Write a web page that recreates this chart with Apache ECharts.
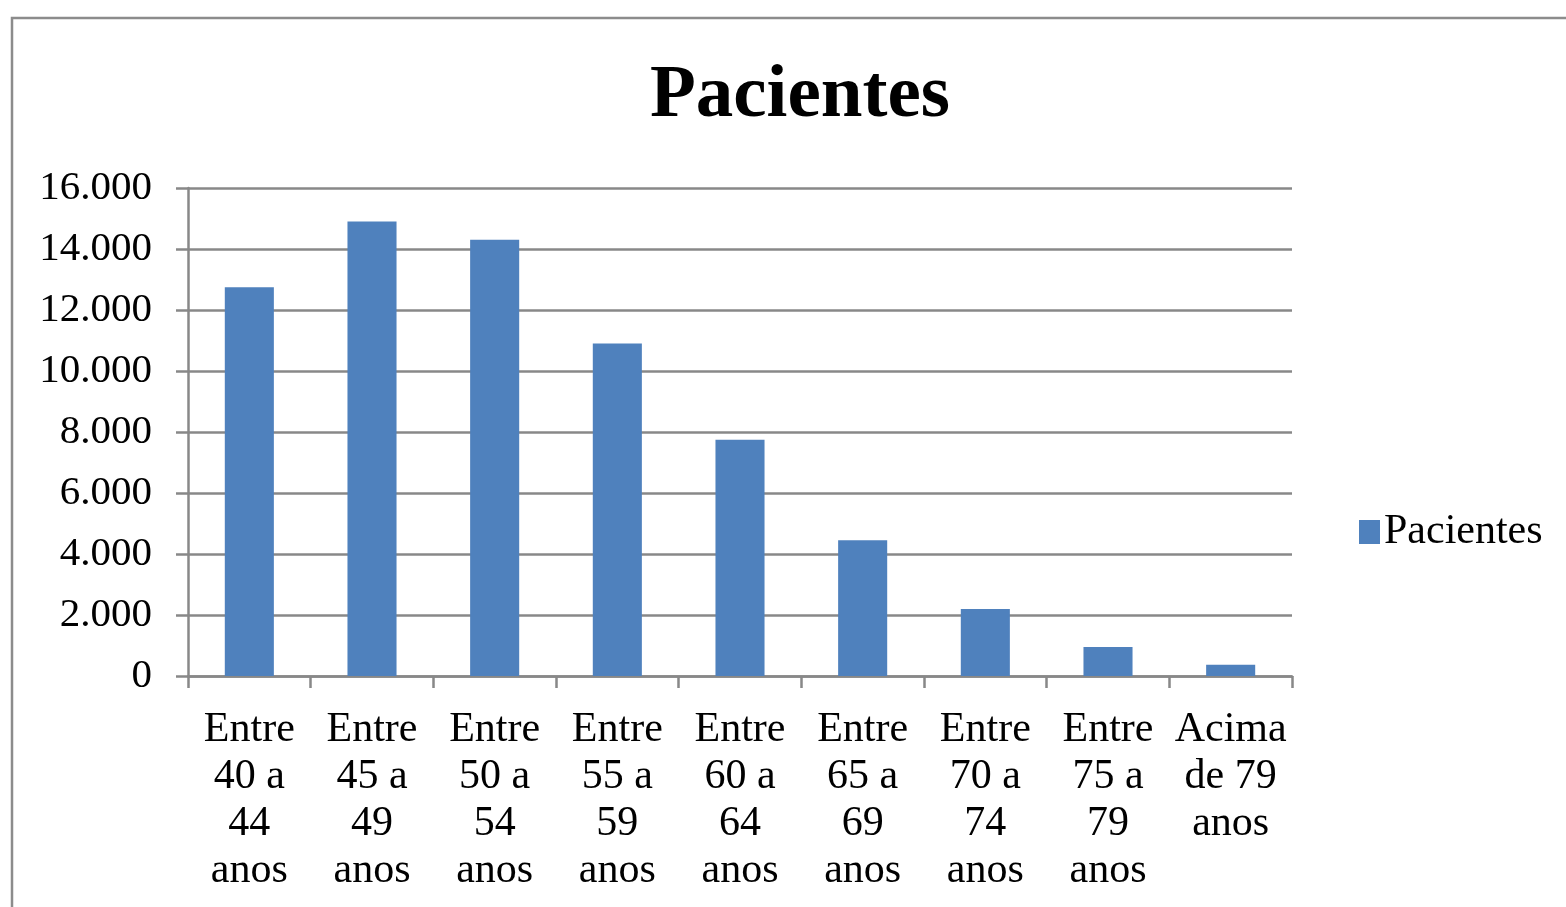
<!DOCTYPE html>
<html>
<head>
<meta charset="utf-8">
<script src="https://cdn.jsdelivr.net/npm/echarts@6/dist/echarts.min.js"></script>
<style>html,body{margin:0;padding:0;background:#fff;}#c{width:1566px;height:907px;}</style>
</head>
<body>
<div id="c"></div>
<script>
const categories = [
  'Entre\n40 a\n44\nanos', 'Entre\n45 a\n49\nanos', 'Entre\n50 a\n54\nanos',
  'Entre\n55 a\n59\nanos', 'Entre\n60 a\n64\nanos', 'Entre\n65 a\n69\nanos',
  'Entre\n70 a\n74\nanos', 'Entre\n75 a\n79\nanos', 'Acima\nde 79\nanos'
];
const pacientes = [12750, 14900, 14300, 10900, 7750, 4450, 2200, 950, 370];
const seriesName = 'Pacientes';
const chartTitle = 'Pacientes';

function fmt(v) { return String(v).replace(/\B(?=(\d{3})+(?!\d))/g, '.'); }

const serif = '"Liberation Serif", "DejaVu Serif", serif';
const chart = echarts.init(document.getElementById('c'), null, {renderer: 'canvas'});
chart.setOption({
  animation: false,
  backgroundColor: '#fff',
  graphic: [{
    type: 'rect',
    shape: {x: 12, y: 18, width: 1600, height: 950},
    style: {fill: 'none', stroke: '#8c8c8c', lineWidth: 2.5},
    z: -1
  }],
  title: {
    text: chartTitle,
    left: 645, top: 54,
    textStyle: {fontFamily: serif, fontWeight: 'bold', fontSize: 75, color: '#000'}
  },
  legend: {
    left: 1354, top: 506,
    itemWidth: 21, itemHeight: 24, itemGap: 10,
    textStyle: {fontFamily: serif, fontSize: 42, color: '#000', padding: [0, 0, 0, -1]},
    data: [{name: seriesName, icon: 'rect'}]
  },
  grid: {left: 188, right: 274, top: 188, bottom: 231, containLabel: false},
  xAxis: {
    type: 'category',
    data: categories,
    axisLine: {lineStyle: {color: '#888', width: 2.5}},
    axisTick: {show: true, length: 12, lineStyle: {color: '#888', width: 2.5}},
    axisLabel: {
      interval: 0, margin: 30,
      fontFamily: serif, fontSize: 42, lineHeight: 47, color: '#000'
    }
  },
  yAxis: {
    type: 'value', min: 0, max: 16000, interval: 2000,
    axisLine: {show: true, lineStyle: {color: '#888', width: 2.5}},
    axisTick: {show: true, length: 12, lineStyle: {color: '#888', width: 2.5}},
    splitLine: {lineStyle: {color: '#888', width: 2.5}},
    axisLabel: {
      margin: 36, formatter: fmt,
      fontFamily: serif, fontSize: 41, color: '#000'
    }
  },
  series: [{
    name: seriesName,
    type: 'bar',
    data: pacientes,
    barCategoryGap: '60%',
    itemStyle: {color: '#4F81BD'}
  }]
});
</script>
</body>
</html>
